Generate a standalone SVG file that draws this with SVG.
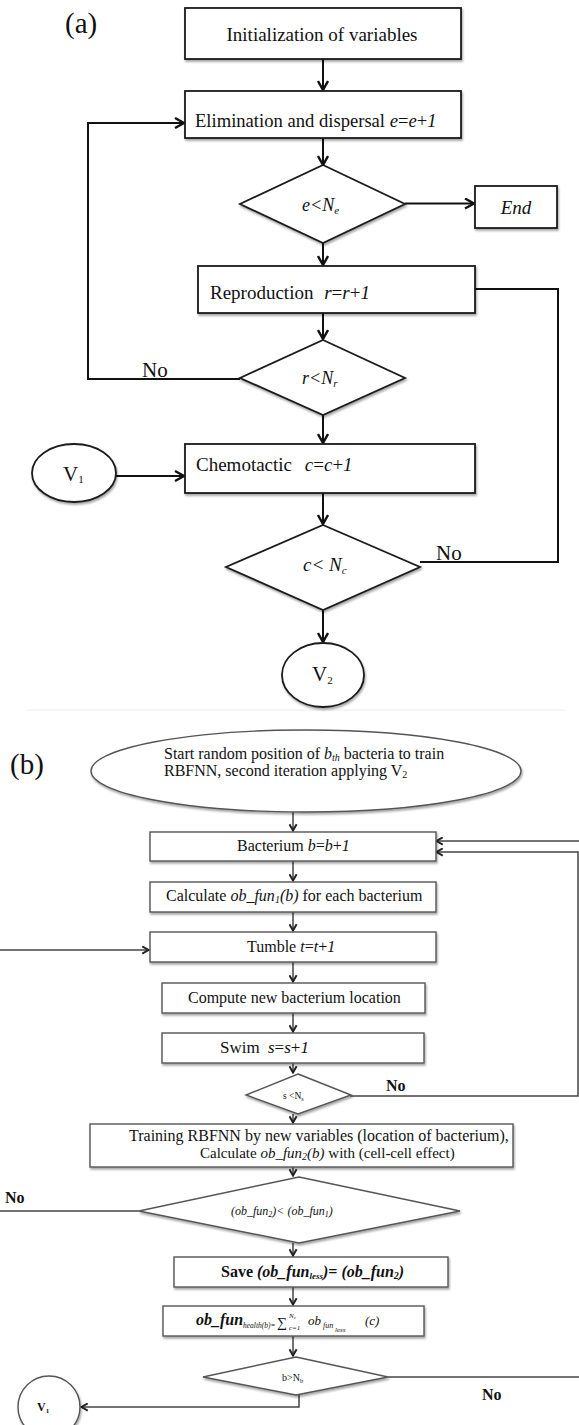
<svg xmlns="http://www.w3.org/2000/svg" width="579" height="1425" viewBox="0 0 579 1425">
  <style>
    .bg { fill: #ffffff; }
    .boxA { fill: #ffffff; stroke: #1a1a1a; stroke-width: 1.8; }
    .boxB { fill: #ffffff; stroke: #555555; stroke-width: 1.4; }
    .lnA { fill: none; stroke: #111111; stroke-width: 2; }
    .lnB { fill: none; stroke: #444444; stroke-width: 1.5; }
    .t { font-family: "Liberation Serif", "Times New Roman", serif; fill: #111111; }
    .i { font-style: italic; }
    .b { font-weight: bold; }
  </style>
  <defs>
    <filter id="shadow" x="-10%" y="-20%" width="120%" height="150%">
      <feDropShadow dx="1" dy="2" stdDeviation="1.3" flood-color="#000000" flood-opacity="0.35"/>
    </filter>
    <marker id="arrA" viewBox="0 0 12 12" refX="10.5" refY="6" markerWidth="12" markerHeight="12" markerUnits="userSpaceOnUse" orient="auto">
      <path d="M1.5,1 L10.5,6 L1.5,11" fill="none" stroke="#111111" stroke-width="2.4"/>
    </marker>
    <marker id="arrB" viewBox="0 0 10 10" refX="9" refY="5" markerWidth="9" markerHeight="9" markerUnits="userSpaceOnUse" orient="auto">
      <path d="M1.5,1 L8.5,5 L1.5,9" fill="none" stroke="#222222" stroke-width="2.2"/>
    </marker>
  </defs>

  <rect class="bg" x="0" y="0" width="579" height="1425"/>

  <!-- panel labels -->
  <text class="t" x="65" y="33" font-size="29">(a)</text>
  <text class="t" x="10" y="774" font-size="29">(b)</text>
  <line x1="26" y1="710" x2="566" y2="710" stroke="#ededed" stroke-width="1"/>

  <!-- connectors -->
  <g id="connectors">
    <g class="lnA" marker-end="url(#arrA)">
      <path d="M323,59 V90"/>
      <path d="M323,138 V165"/>
      <path d="M405,203.5 H474"/>
      <path d="M323,243 V265"/>
      <path d="M323,313 V339"/>
      <path d="M240,379 H88 V123 H184"/>
      <path d="M323,415 V443"/>
      <path d="M116,476 H184"/>
      <path d="M323,493 V524"/>
      <path d="M323,610 V642"/>
    </g>
    <path class="lnA" d="M475,289 H558 V562 H420"/>

    <g class="lnB" marker-end="url(#arrB)">
      <path d="M293,812 V831"/>
      <path d="M293,861 V881"/>
      <path d="M293,912 V931"/>
      <path d="M293,962 V982"/>
      <path d="M293,1013 V1032"/>
      <path d="M293,1063 V1073"/>
      <path d="M293,1114 V1123"/>
      <path d="M293,1167 V1176"/>
      <path d="M293,1243 V1256"/>
      <path d="M293,1287 V1305"/>
      <path d="M293,1336 V1356"/>
      <path d="M0,950 H149"/>
      <path d="M579,841 H436"/>
      <path d="M350,1096 H578 V852 H436"/>
      <path d="M299,1395 V1407 H81"/>
    </g>
    <path class="lnB" d="M139,1211 H0"/>
    <path class="lnB" d="M388,1377 H579"/>
  </g>

  <!-- (a) nodes -->
  <g id="init">
    <rect class="boxA" x="185" y="8" width="276" height="51" filter="url(#shadow)"/>
    <text class="t" x="322" y="41" font-size="19" text-anchor="middle">Initialization of variables</text>
  </g>
  <g id="elimination">
    <rect class="boxA" x="185" y="91" width="276" height="47" filter="url(#shadow)"/>
    <text class="t" x="195" y="127" font-size="18.6">Elimination and dispersal <tspan class="i">e</tspan>=<tspan class="i">e</tspan>+<tspan class="i">1</tspan></text>
  </g>
  <g id="cond-e">
    <polygon class="boxA" points="323,165 405,204 323,243 240,204" filter="url(#shadow)"/>
    <text class="t i" x="302" y="211" font-size="18">e&lt;N<tspan font-size="11" dy="3">e</tspan></text>
  </g>
  <g id="end">
    <rect class="boxA" x="475" y="186" width="82" height="42" filter="url(#shadow)"/>
    <text class="t i" x="516" y="214" font-size="19" text-anchor="middle">End</text>
  </g>
  <g id="reproduction">
    <rect class="boxA" x="198" y="266" width="277" height="47" filter="url(#shadow)"/>
    <text class="t" x="210" y="299" font-size="19">Reproduction <tspan class="i" dx="6">r</tspan>=<tspan class="i">r</tspan>+<tspan class="i">1</tspan></text>
  </g>
  <g id="cond-r">
    <polygon class="boxA" points="323,340 405,378 323,415 240,378" filter="url(#shadow)"/>
    <text class="t i" x="302" y="384" font-size="18">r&lt;N<tspan font-size="11" dy="3">r</tspan></text>
    <text class="t" x="142" y="377" font-size="21">No</text>
  </g>
  <g id="v1-top">
    <ellipse class="boxA" cx="74" cy="473" rx="42" ry="29" filter="url(#shadow)"/>
    <text class="t" x="63" y="481" font-size="21">V<tspan font-size="11" dy="2">1</tspan></text>
  </g>
  <g id="chemotactic">
    <rect class="boxA" x="185" y="444" width="290" height="49" filter="url(#shadow)"/>
    <text class="t" x="196" y="471" font-size="19">Chemotactic <tspan class="i" dx="8">c</tspan>=<tspan class="i">c</tspan>+<tspan class="i">1</tspan></text>
  </g>
  <g id="cond-c">
    <polygon class="boxA" points="323,525 420,567 323,610 226,567" filter="url(#shadow)"/>
    <text class="t i" x="303" y="571" font-size="19">c&lt; N<tspan font-size="11" dy="3">c</tspan></text>
    <text class="t" x="436" y="560" font-size="21">No</text>
  </g>
  <g id="v2">
    <ellipse class="boxA" cx="323" cy="675" rx="41" ry="32" filter="url(#shadow)"/>
    <text class="t" x="312" y="681" font-size="21">V<tspan font-size="11" dy="3">2</tspan></text>
  </g>

  <!-- (b) nodes -->
  <g id="start">
    <ellipse class="boxB" cx="306" cy="771" rx="215" ry="41" filter="url(#shadow)"/>
    <text class="t" x="164" y="759" font-size="16">Start random position of <tspan class="i">b</tspan><tspan class="i" font-size="10" dy="2">th</tspan><tspan dy="-2"> bacteria to train</tspan></text>
    <text class="t" x="164" y="776" font-size="16">RBFNN, second iteration applying V<tspan font-size="10" dy="2">2</tspan></text>
  </g>
  <g id="bacterium">
    <rect class="boxB" x="150" y="832" width="286" height="29" filter="url(#shadow)"/>
    <text class="t" x="237" y="851" font-size="16">Bacterium <tspan class="i">b</tspan>=<tspan class="i">b</tspan>+<tspan class="i">1</tspan></text>
  </g>
  <g id="calc1">
    <rect class="boxB" x="150" y="882" width="286" height="30" filter="url(#shadow)"/>
    <text class="t" x="166" y="901" font-size="16">Calculate <tspan class="i">ob_fun</tspan><tspan class="i" font-size="10" dy="2">1</tspan><tspan class="i" dy="-2">(b)</tspan> for each bacterium</text>
  </g>
  <g id="tumble">
    <rect class="boxB" x="150" y="932" width="286" height="30" filter="url(#shadow)"/>
    <text class="t" x="247" y="952" font-size="16">Tumble <tspan class="i">t</tspan>=<tspan class="i">t</tspan>+<tspan class="i">1</tspan></text>
  </g>
  <g id="compute">
    <rect class="boxB" x="162" y="983" width="263" height="30" filter="url(#shadow)"/>
    <text class="t" x="188" y="1003" font-size="16">Compute new bacterium location</text>
  </g>
  <g id="swim">
    <rect class="boxB" x="162" y="1033" width="262" height="30" filter="url(#shadow)"/>
    <text class="t" x="220" y="1053" font-size="17">Swim <tspan class="i" dx="4">s</tspan>=<tspan class="i">s</tspan>+<tspan class="i">1</tspan></text>
  </g>
  <g id="cond-s">
    <polygon class="boxB" points="298,1074 351,1095 298,1114 246,1095" filter="url(#shadow)"/>
    <text class="t" x="283" y="1099" font-size="9.5">s &lt;N<tspan font-size="6" dy="1.5">s</tspan></text>
    <text class="t b" x="386" y="1091" font-size="16">No</text>
  </g>
  <g id="training">
    <rect class="boxB" x="90" y="1124" width="423" height="43" filter="url(#shadow)"/>
    <text class="t" x="129" y="1141" font-size="16">Training RBFNN by new variables (location of bacterium),</text>
    <text class="t" x="200" y="1158" font-size="15">Calculate <tspan class="i">ob_fun</tspan><tspan class="i" font-size="10" dy="2">2</tspan><tspan class="i" dy="-2">(b)</tspan> with (cell-cell effect)</text>
  </g>
  <g id="cond-fun">
    <polygon class="boxB" points="299,1177 460,1211 299,1243 139,1211" filter="url(#shadow)"/>
    <text class="t i" x="231" y="1215" font-size="12">(ob_fun<tspan font-size="8" dy="1.5">2</tspan><tspan dy="-1.5">)&lt; (ob_fun</tspan><tspan font-size="8" dy="1.5">1</tspan><tspan dy="-1.5">)</tspan></text>
    <text class="t b" x="5" y="1203" font-size="16">No</text>
  </g>
  <g id="save">
    <rect class="boxB" x="174" y="1257" width="274" height="30" filter="url(#shadow)"/>
    <text class="t b" x="221" y="1277" font-size="16">Save <tspan class="i">(ob_fun</tspan><tspan class="i" font-size="9" dy="2">less</tspan><tspan class="i" dy="-2">)</tspan>= <tspan class="i">(ob_fun</tspan><tspan class="i" font-size="10" dy="2">2</tspan><tspan class="i" dy="-2">)</tspan></text>
  </g>
  <g id="health">
    <rect class="boxB" x="163" y="1306" width="261" height="30" filter="url(#shadow)"/>
    <text class="t b i" x="196" y="1325" font-size="16">ob_fun</text>
    <text class="t i" x="243" y="1328" font-size="7.5">health(b)=</text>
    <text class="t" x="277" y="1327" font-size="14">∑</text>
    <text class="t i" x="289" y="1318" font-size="7">N<tspan font-size="5" dy="1">c</tspan></text>
    <text class="t i" x="289" y="1330" font-size="7">c=1</text>
    <text class="t i" x="308" y="1325" font-size="13">ob</text>
    <text class="t i" x="323" y="1328" font-size="8">fun</text>
    <text class="t i" x="335" y="1332" font-size="7">less</text>
    <text class="t i" x="365" y="1325" font-size="13">(c)</text>
  </g>
  <g id="cond-b">
    <polygon class="boxB" points="296,1357 388,1377 296,1395 203,1377" filter="url(#shadow)"/>
    <text class="t" x="282" y="1381" font-size="10">b&gt;N<tspan font-size="6.5" dy="1.5">b</tspan></text>
    <text class="t b" x="482" y="1400" font-size="16">No</text>
  </g>
  <g id="v1-bottom">
    <ellipse class="boxB" cx="49" cy="1407" rx="31" ry="31" filter="url(#shadow)"/>
    <text class="t b" x="37" y="1411" font-size="12">V<tspan font-size="7" dy="1.5">1</tspan></text>
  </g>
</svg>
